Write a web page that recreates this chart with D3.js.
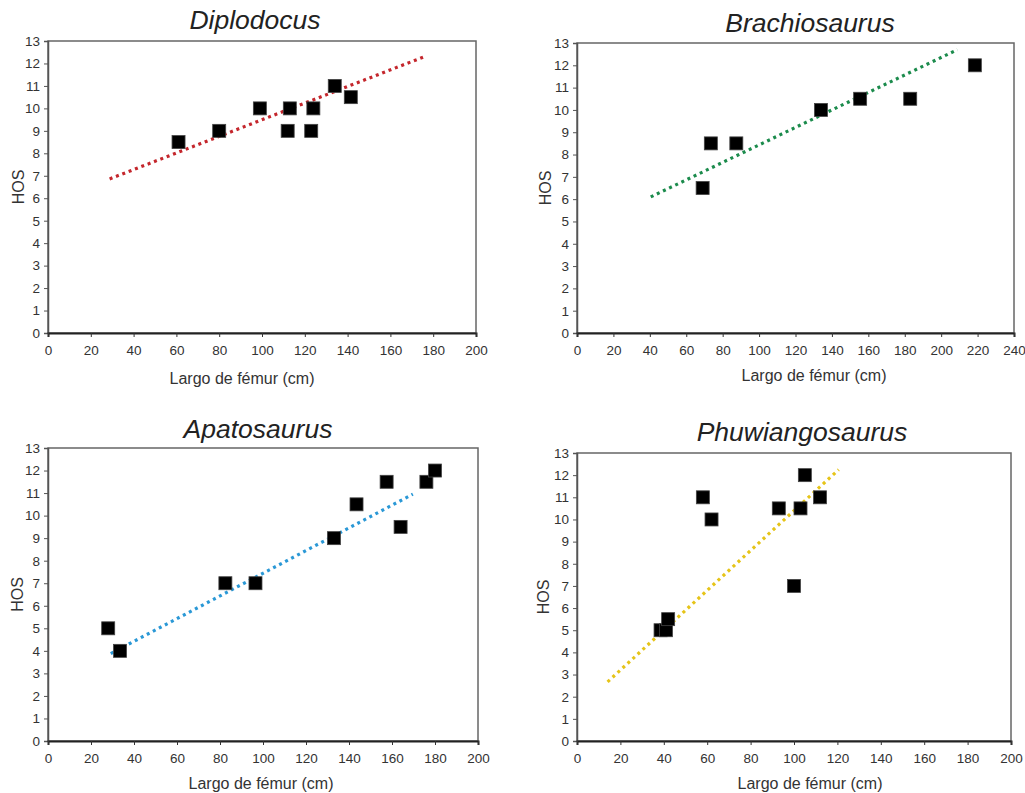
<!DOCTYPE html>
<html>
<head>
<meta charset="utf-8">
<script src="https://cdn.jsdelivr.net/npm/d3@7"></script>
<style>
  body { margin: 0; background: #fff; }
  svg { font-family: "Liberation Sans", Arial, sans-serif; }
  .tick text { fill: #333; font-size: 13.5px; }
</style>
</head>
<body>
<script>
// data: femur length (cm) vs HOS
var diploX = [61, 80, 99, 112, 113, 123, 124, 134, 141.5];
var diploY = [8.5, 9, 10, 9, 10, 9, 10, 11, 10.5];
var diploTrend = [[28.8, 6.86], [176.9, 12.34]];

var brachioX = [69, 73.5, 87.5, 134, 155.5, 183, 218.5];
var brachioY = [6.5, 8.5, 8.5, 10, 10.5, 10.5, 12];
var brachioTrend = [[40.5, 6.1], [208.9, 12.7]];

var apatoX = [28, 33.5, 82.5, 96.5, 133, 143.5, 157.5, 164, 176, 180];
var apatoY = [5, 4, 7, 7, 9, 10.5, 11.5, 9.5, 11.5, 12];
var apatoTrend = [[29.2, 3.88], [169.7, 10.95]];

var phuwX = [38.5, 41, 42, 58, 62, 93, 100, 103, 105, 112];
var phuwY = [5, 5, 5.5, 11, 10, 10.5, 7, 10.5, 12, 11];
var phuwTrend = [[14.1, 2.67], [120.6, 12.25]];

var yTicks = d3.range(0, 14, 1);
var xTicks200 = d3.range(0, 201, 20);
var xTicks240 = d3.range(0, 241, 20);

var panels = [
  {title: "Diplodocus", xs: diploX, ys: diploY, trend: diploTrend, color: "#c4262c",
   xmax: 200, xt: xTicks200, l: 48, r: 476, t: 41, b: 333,
   titleX: 255, titleY: 29, labX: 242, labY: 384, hosX: 18},
  {title: "Brachiosaurus", xs: brachioX, ys: brachioY, trend: brachioTrend, color: "#1b8b4c",
   xmax: 240, xt: xTicks240, l: 577, r: 1014, t: 43, b: 333,
   titleX: 810, titleY: 32, labX: 814, labY: 381, hosX: 545},
  {title: "Apatosaurus", xs: apatoX, ys: apatoY, trend: apatoTrend, color: "#2a98d6",
   xmax: 200, xt: xTicks200, l: 48, r: 478, t: 448, b: 741,
   titleX: 258, titleY: 438, labX: 261, labY: 789, hosX: 17},
  {title: "Phuwiangosaurus", xs: phuwX, ys: phuwY, trend: phuwTrend, color: "#e6c418",
   xmax: 200, xt: xTicks200, l: 577, r: 1011, t: 453, b: 741,
   titleX: 802, titleY: 441, labX: 810, labY: 789, hosX: 543}
];

var svg = d3.select("body").append("svg")
  .attr("width", 1025)
  .attr("height", 793);

panels.forEach(function (p) {
  var x = d3.scaleLinear().domain([0, p.xmax]).range([p.l, p.r]);
  var y = d3.scaleLinear().domain([0, 13]).range([p.b, p.t]);
  var g = svg.append("g");

  // plot frame
  g.append("rect")
    .attr("x", p.l).attr("y", p.t)
    .attr("width", p.r - p.l).attr("height", p.b - p.t)
    .attr("fill", "none").attr("stroke", "#666").attr("stroke-width", 1.5);

  var yAxis = g.append("g")
    .attr("transform", "translate(" + p.l + ",0)")
    .call(d3.axisLeft(y).tickValues(yTicks).tickSize(4).tickPadding(4));
  yAxis.select(".domain").attr("stroke", "#555").attr("stroke-width", 1.5);
  yAxis.selectAll(".tick line").attr("stroke", "#555");

  var xAxis = g.append("g")
    .attr("transform", "translate(0," + p.b + ")")
    .call(d3.axisBottom(x).tickValues(p.xt).tickSize(4).tickPadding(8));
  xAxis.select(".domain").attr("stroke", "#222").attr("stroke-width", 2);
  xAxis.selectAll(".tick line").attr("stroke", "#333");
  g.selectAll(".domain").attr("fill", "none");
  g.selectAll(".tick text").attr("font-family", "Liberation Sans, Arial, sans-serif");

  // dotted trend line
  g.append("path")
    .datum(p.trend)
    .attr("d", d3.line().x(function (d) { return x(d[0]); }).y(function (d) { return y(d[1]); }))
    .attr("fill", "none")
    .attr("stroke", p.color)
    .attr("stroke-width", 3.2)
    .attr("stroke-dasharray", "3,3.8");

  // square markers
  var sz = 13;
  g.selectAll("rect.pt")
    .data(p.xs.map(function (v, i) { return [v, p.ys[i]]; }))
    .enter().append("rect")
    .attr("class", "pt")
    .attr("x", function (d) { return x(d[0]) - sz / 2; })
    .attr("y", function (d) { return y(d[1]) - sz / 2; })
    .attr("width", sz).attr("height", sz)
    .attr("fill", "#000")
    .attr("stroke", "#444").attr("stroke-width", 0.8);

  g.append("text")
    .attr("x", p.titleX).attr("y", p.titleY)
    .attr("text-anchor", "middle")
    .attr("font-size", 26.5).attr("font-style", "italic")
    .attr("fill", "#222")
    .text(p.title);

  g.append("text")
    .attr("x", p.labX).attr("y", p.labY)
    .attr("text-anchor", "middle")
    .attr("font-size", 16).attr("fill", "#333")
    .text("Largo de fémur (cm)");

  g.append("text")
    .attr("transform", "translate(" + (p.hosX + 6) + "," + ((p.t + p.b) / 2) + ") rotate(-90)")
    .attr("text-anchor", "middle")
    .attr("font-size", 16).attr("fill", "#333")
    .text("HOS");
});
</script>
</body>
</html>
